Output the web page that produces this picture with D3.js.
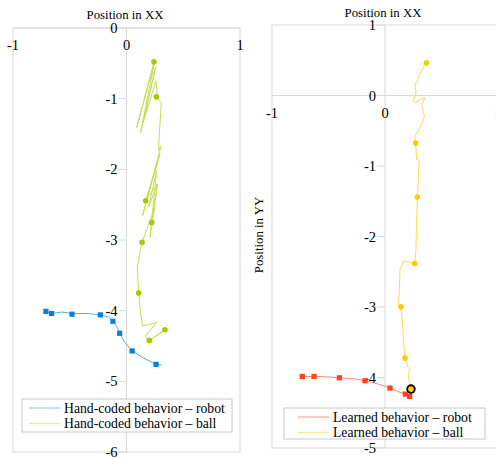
<!DOCTYPE html>
<html>
<head>
<meta charset="utf-8">
<script src="https://cdn.jsdelivr.net/npm/d3@7/dist/d3.min.js"></script>
<style>
  body { margin: 0; background: #fff; }
</style>
</head>
<body>
<svg id="chart" width="496" height="459"></svg>
<script>
// hand-coded behavior (left panel)
var handRobot = [[-0.71,-4.01],[-0.66,-4.04],[-0.57,-4.02],[-0.48,-4.04],[-0.35,-4.04],[-0.23,-4.06],
  [-0.16,-4.09],[-0.12,-4.15],[-0.08,-4.24],[-0.06,-4.32],[-0.02,-4.44],[0.05,-4.57],[0.15,-4.67],
  [0.26,-4.76],[0.31,-4.77]];
var handRobotMarks = [[-0.71,-4.01],[-0.66,-4.04],[-0.48,-4.05],[-0.23,-4.06],[-0.12,-4.15],
  [-0.06,-4.32],[0.05,-4.57],[0.26,-4.76]];
var handBall = [[0.242,-0.478],[0.090,-1.409],[0.245,-0.501],[0.125,-1.480],[0.257,-0.548],[0.148,-1.329],
  [0.260,-0.747],[0.272,-0.917],[0.263,-0.974],[0.307,-1.059],[0.301,-1.210],[0.289,-1.494],[0.282,-1.730],
  [0.304,-1.674],[0.142,-2.652],[0.295,-1.778],[0.169,-2.444],[0.272,-2.203],[0.195,-2.534],[0.266,-2.014],
  [0.207,-2.960],[0.272,-2.213],[0.222,-2.752],[0.251,-2.534],[0.137,-3.031],[0.095,-3.385],[0.107,-3.749],
  [0.125,-4.047],[0.142,-4.217],[0.266,-4.166],[0.163,-4.369],[0.201,-4.421],[0.354,-4.255],[0.231,-4.388],
  [0.339,-4.270]];
var handBallMarks = [[0.242,-0.478],[0.263,-0.974],[0.169,-2.444],[0.222,-2.752],[0.137,-3.031],
  [0.107,-3.749],[0.201,-4.421],[0.339,-4.270]];

// learned behavior (right panel)
var learnedRobot = [[-0.732,-3.985],[-0.628,-3.985],[-0.516,-3.990],[-0.404,-4.004],[-0.280,-4.018],
  [-0.177,-4.046],[-0.059,-4.093],[0.044,-4.150],[0.118,-4.202],[0.180,-4.235],[0.218,-4.268],[0.225,-4.275]];
var learnedRobotMarks = [[-0.732,-3.985],[-0.628,-3.985],[-0.404,-4.004],[-0.177,-4.046],[0.044,-4.150],
  [0.180,-4.235],[0.218,-4.268]];
var learnedBall = [[0.366,0.463],[0.310,0.321],[0.280,0.179],[0.265,0.165],[0.274,0.038],[0.251,-0.080],
  [0.265,-0.104],[0.310,-0.057],[0.354,-0.033],[0.325,-0.127],[0.348,-0.293],[0.310,-0.458],[0.265,-0.576],
  [0.271,-0.675],[0.280,-0.907],[0.304,-0.921],[0.295,-1.095],[0.295,-1.237],[0.286,-1.440],[0.280,-1.804],
  [0.274,-2.181],[0.263,-2.384],[0.162,-2.347],[0.133,-2.465],[0.127,-2.748],[0.121,-2.984],[0.142,-2.998],
  [0.156,-3.267],[0.162,-3.456],[0.177,-3.725],[0.206,-3.857],[0.221,-3.881],[0.206,-3.975],[0.230,-4.164]];
var learnedBallMarks = [[0.366,0.463],[0.271,-0.675],[0.286,-1.440],[0.263,-2.384],[0.142,-2.998],
  [0.177,-3.725]];
var learnedBallEnd = [[0.230,-4.164]];

var xTicks = [-1, 0, 1];
var yTicksLeft = [0, -1, -2, -3, -4, -5, -6];
var yTicksRight = [1, 0, -1, -2, -3, -4, -5];
var legendLeft = ["Hand-coded behavior \u2013 robot", "Hand-coded behavior \u2013 ball"];
var legendRight = ["Learned behavior \u2013 robot", "Learned behavior \u2013 ball"];

var svg = d3.select("#chart")
  .attr("font-family", "'Liberation Serif', 'Times New Roman', serif");
var line = d3.line();

function panel(p) {
  var x = d3.scaleLinear().domain([-1, 1]).range([p.left, p.right]);
  var y = d3.scaleLinear().domain(p.yDomain).range([p.bottom, p.top]);
  var g = svg.append("g");
  line.x(d => x(d[0])).y(d => y(d[1]));

  g.append("text")
    .attr("x", p.titleX).attr("y", p.titleY)
    .attr("text-anchor", "middle").attr("font-size", 12.8).attr("fill", "#000")
    .text("Position in XX");

  // frame + zero lines
  g.append("rect")
    .attr("x", p.left).attr("y", p.top)
    .attr("width", p.right - p.left).attr("height", p.bottom - p.top)
    .attr("fill", "none").attr("stroke", "#d9d9d9");
  g.append("line")
    .attr("x1", x(0)).attr("x2", x(0)).attr("y1", p.top).attr("y2", p.bottom)
    .attr("stroke", "#d9d9d9");
  g.append("line")
    .attr("x1", p.left).attr("x2", p.right).attr("y1", y(0)).attr("y2", y(0))
    .attr("stroke", "#d9d9d9");

  // y ticks on the x=0 line
  g.selectAll(".yt").data(p.yTicks).enter().append("line")
    .attr("x1", x(0) - 8).attr("x2", x(0))
    .attr("y1", d => y(d)).attr("y2", d => y(d))
    .attr("stroke", "#d9d9d9");
  g.selectAll(".yl").data(p.yTicks).enter().append("text")
    .attr("x", x(0) - 9).attr("y", d => y(d)).attr("dy", "0.35em")
    .attr("text-anchor", "end").attr("font-size", 14.5)
    .text(d => d);
  g.selectAll(".xl").data(xTicks).enter().append("text")
    .attr("x", d => x(d)).attr("y", y(0) + 17).attr("dy", "0.35em")
    .attr("text-anchor", "middle").attr("font-size", 14.5)
    .text(d => d);

  if (p.yLabel) {
    g.append("text")
      .attr("transform", "translate(" + p.yLabelX + "," + p.yLabelY + ") rotate(-90)")
      .attr("text-anchor", "middle").attr("font-size", 12.8)
      .text(p.yLabel);
  }

  // trajectories
  g.append("path").datum(p.robot)
    .attr("d", line).attr("fill", "none").attr("stroke", p.robotLine).attr("stroke-width", 1);
  g.selectAll(".rm").data(p.robotMarks).enter().append("rect")
    .attr("x", d => x(d[0]) - 2.6).attr("y", d => y(d[1]) - 2.6)
    .attr("width", 5.2).attr("height", 5.2).attr("fill", p.robotMark);
  g.append("path").datum(p.ball)
    .attr("d", line).attr("fill", "none").attr("stroke", p.ballLine).attr("stroke-width", 1);
  g.selectAll(".bm").data(p.ballMarks).enter().append("circle")
    .attr("cx", d => x(d[0])).attr("cy", d => y(d[1])).attr("r", 2.8)
    .attr("fill", p.ballMark);
  if (p.ballEnd) {
    g.selectAll(".be").data(p.ballEnd).enter().append("circle")
      .attr("cx", d => x(d[0])).attr("cy", d => y(d[1])).attr("r", 3.8)
      .attr("fill", p.ballMark).attr("stroke", "#000").attr("stroke-width", 1.8);
  }

  // legend
  var lg = g.append("g");
  lg.append("rect")
    .attr("x", p.lg[0]).attr("y", p.lg[1]).attr("width", p.lg[2]).attr("height", p.lg[3])
    .attr("fill", "#fff").attr("stroke", "#c8c8c8");
  var item = lg.selectAll(".li").data(p.legend).enter().append("g")
    .attr("transform", (d, i) => "translate(" + (p.lg[0] + p.lgPad) + "," + (p.lg[1] + 9 + i * 15.5) + ")");
  item.append("line")
    .attr("x1", 0).attr("x2", 31).attr("y1", 0).attr("y2", 0)
    .attr("stroke", (d, i) => p.legendColors[i]).attr("stroke-width", 1.4);
  item.append("text")
    .attr("x", 35).attr("y", 0).attr("dy", "0.35em").attr("font-size", 13.7)
    .text(d => d);
}

panel({
  left: 13, right: 240, top: 28, bottom: 452, yDomain: [-6, 0], yTicks: yTicksLeft,
  titleX: 125, titleY: 19,
  robot: handRobot, robotMarks: handRobotMarks, ball: handBall, ballMarks: handBallMarks,
  robotLine: "#5aaee2", robotMark: "#0b7fd4", ballLine: "#c6de55", ballMark: "#a6c900",
  legend: legendLeft, legendColors: ["#a9d6f2", "#e3ef9a"], lg: [22, 399, 210, 33], lgPad: 7
});

panel({
  left: 272, right: 498, top: 25, bottom: 448, yDomain: [-5, 1], yTicks: yTicksRight,
  titleX: 383, titleY: 17,
  yLabel: "Position in YY", yLabelX: 263, yLabelY: 235,
  robot: learnedRobot, robotMarks: learnedRobotMarks, ball: learnedBall, ballMarks: learnedBallMarks,
  ballEnd: learnedBallEnd,
  robotLine: "#ff8a70", robotMark: "#ff4217", ballLine: "#ffd95a", ballMark: "#ffcc00",
  legend: legendRight, legendColors: ["#ffb5a3", "#ffe99c"], lg: [284, 408, 201, 31], lgPad: 14
});
</script>
</body>
</html>
